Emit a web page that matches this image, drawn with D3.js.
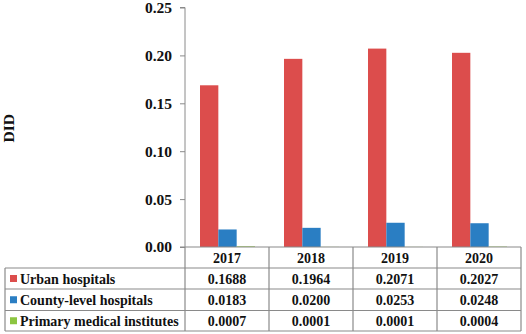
<!DOCTYPE html>
<html lang="en">
<head>
<meta charset="UTF-8">
<title>DID by hospital level</title>
<script src="https://d3js.org/d3.v7.min.js"></script>
<style>
    body { margin: 0; background: #fff; }
</style>
</head>
<body>
<script>
    const years = ['2017', '2018', '2019', '2020'];
    const seriesNames = ['Urban hospitals', 'County-level hospitals', 'Primary medical institutes'];
    const urban = [0.1688, 0.1964, 0.2071, 0.2027];
    const county = [0.0183, 0.0200, 0.0253, 0.0248];
    const primary = [0.0007, 0.0001, 0.0001, 0.0004];
    const yTicks = [0, 0.05, 0.10, 0.15, 0.20, 0.25];

    const colors = ['#dc4d4c', '#2a7ec3', '#8cc540'];
    const values = [urban, county, primary];

    const W = 526, H = 334;
    const plotLeft = 185, plotRight = 521;
    const y0 = 247, yTop = 7.5;
    const rowH = [247, 268, 289, 310.5, 331];
    const tableLeft = 5;
    const grid = '#8a8a8a';
    const FONT = 'Liberation Serif';

    const svg = d3.select('body').append('svg')
        .attr('width', W).attr('height', H);

    function txt(sel, size) {
        return sel.attr('font-family', FONT).attr('font-weight', 'bold')
            .attr('font-size', size).attr('fill', '#111');
    }

    const x = d3.scaleBand().domain(years).range([plotLeft, plotRight]);
    const xs = d3.scaleBand().domain(seriesNames).range([15, 70]);
    const y = d3.scaleLinear().domain([0, 0.25]).range([y0, yTop]);

    // bars
    seriesNames.forEach((s, si) => {
        svg.append('g').selectAll('rect')
            .data(years.map((yr, i) => ({ yr, v: values[si][i] })))
            .enter().append('rect')
            .attr('x', d => x(d.yr) + xs(s))
            .attr('width', xs.bandwidth())
            .attr('y', d => y(d.v))
            .attr('height', d => y0 - y(d.v))
            .attr('fill', colors[si]);
    });

    // y axis
    const yAxis = d3.axisLeft(y).tickValues(yTicks).tickFormat(d3.format('.2f')).tickSize(5).tickPadding(8);
    const ga = svg.append('g').attr('transform', `translate(${plotLeft},0)`).call(yAxis);
    ga.attr('font-family', FONT).attr('font-weight', 'bold').attr('font-size', 15.5);
    ga.select('.domain').attr('stroke', grid).attr('d', `M-5,${yTop}H0V${y0}`);
    ga.selectAll('.tick line').attr('stroke', grid);
    ga.selectAll('.tick text').attr('fill', '#111');

    txt(svg.append('text'), 15.5)
        .attr('transform', `translate(14,${(yTop + y0) / 2 + 1}) rotate(-90)`)
        .attr('text-anchor', 'middle')
        .text('DID');

    // data table
    const tg = svg.append('g').attr('fill', 'none').attr('stroke', grid).attr('stroke-width', 1.2);
    tg.append('line').attr('x1', plotLeft - 5).attr('x2', plotRight).attr('y1', y0).attr('y2', y0);
    for (let r = 1; r < rowH.length; r++) {
        tg.append('line').attr('x1', tableLeft).attr('x2', plotRight).attr('y1', rowH[r]).attr('y2', rowH[r]);
    }
    tg.append('line').attr('x1', tableLeft).attr('x2', tableLeft).attr('y1', rowH[1]).attr('y2', rowH[4]);
    years.forEach(yr => {
        tg.append('line').attr('x1', x(yr)).attr('x2', x(yr)).attr('y1', y0).attr('y2', rowH[4]);
    });
    tg.append('line').attr('x1', plotRight).attr('x2', plotRight).attr('y1', y0).attr('y2', rowH[4]);

    txt(svg.append('g').selectAll('text').data(years).enter().append('text'), 14)
        .attr('x', d => x(d) + x.bandwidth() / 2)
        .attr('y', (rowH[0] + rowH[1]) / 2 + 5)
        .attr('text-anchor', 'middle')
        .text(d => d);

    seriesNames.forEach((s, si) => {
        const top = rowH[si + 1], bot = rowH[si + 2];
        const mid = (top + bot) / 2;
        svg.append('rect').attr('x', 10).attr('y', mid - 3.5).attr('width', 7).attr('height', 7).attr('fill', colors[si]);
        txt(svg.append('text'), 14).attr('x', 20).attr('y', mid + 5).text(s);
        txt(svg.append('g').selectAll('text').data(values[si]).enter().append('text'), 14)
            .attr('x', (d, i) => x(years[i]) + x.bandwidth() / 2)
            .attr('y', mid + 5)
            .attr('text-anchor', 'middle')
            .text(d => d.toFixed(4));
    });
</script>
</body>
</html>
